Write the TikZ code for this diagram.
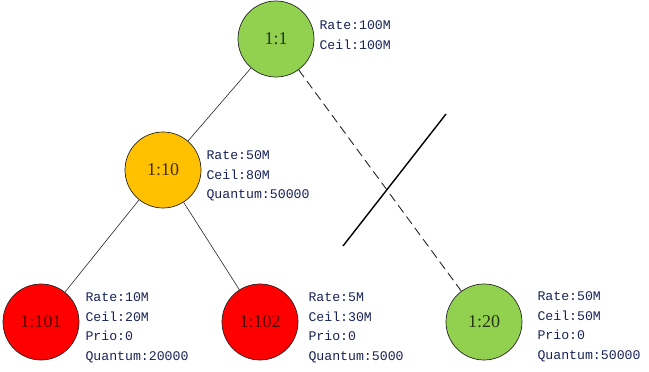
\documentclass[tikz,border=0pt]{standalone}
\usepackage{fontspec}
\setmainfont{Liberation Serif}
\newfontfamily\infofont{Liberation Mono}
\usetikzlibrary{positioning}
\definecolor{leafgreen}{RGB}{146,208,80}
\definecolor{amber}{RGB}{255,192,0}
\definecolor{infoblue}{RGB}{25,35,90}
\tikzset{
  cls/.style={circle, draw=black!85, line width=0.7pt, minimum size=76pt, inner sep=0pt,
    font=\fontsize{18}{18}\selectfont},
  info/.style={align=left, text=infoblue, inner sep=0pt,
    font=\infofont\fontsize{13.2}{19.5}\selectfont},
  link/.style={draw=black!85, line width=0.6pt},
}
\begin{document}
\begin{tikzpicture}[x=1pt, y=-1pt]
    \useasboundingbox (0,0) rectangle (649,372);
    % classes
    \node[cls, fill=leafgreen, text=black!75!leafgreen] (c1) at (276,39) {1:1};
    \node[cls, fill=amber, text=black!75!amber] (c10) at (163,170) {1:10};
    \node[cls, fill=red, text=black!70!red] (c101) at (41,322) {1:101};
    \node[cls, fill=red, text=black!70!red] (c102) at (260,322) {1:102};
    \node[cls, fill=leafgreen, text=black!75!leafgreen] (c20) at (484,322) {1:20};
    % parameters
    \node[info, right=5pt of c1, yshift=4pt] (i1) {Rate:100M\\Ceil:100M};
    \node[info, right=5pt of c10, yshift=-6pt] (i10) {Rate:50M\\Ceil:80M\\Quantum:50000};
    \node[info, right=6pt of c101, yshift=-6pt] (i101) {Rate:10M\\Ceil:20M\\Prio:0\\Quantum:20000};
    \node[info, right=10pt of c102, yshift=-6pt] (i102) {Rate:5M\\Ceil:30M\\Prio:0\\Quantum:5000};
    \node[info, right=15pt of c20, yshift=-5pt] (i20) {Rate:50M\\Ceil:50M\\Prio:0\\Quantum:50000};
    % edges
    \draw[link] (c1) -- (c10);
    \draw[link] (c10) -- (c101);
    \draw[link] (c10) -- (c102);
    \draw[link, line width=0.9pt, dash pattern=on 9pt off 5pt] (c1) -- (c20);
    % cut mark
    \coordinate (cutA) at (343,246);
    \coordinate (cutB) at (446,114);
    \draw[line width=1.4pt] (cutA) -- (cutB);
\end{tikzpicture}
\end{document}
